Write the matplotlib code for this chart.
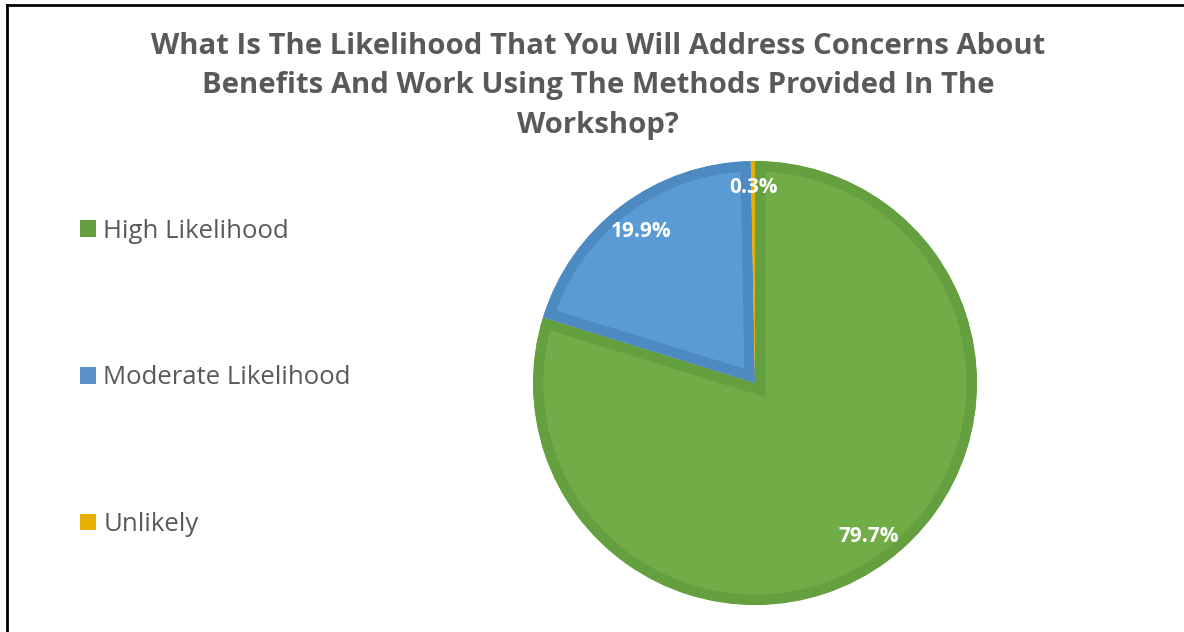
import numpy as np
import matplotlib
matplotlib.use("Agg")
import matplotlib.pyplot as plt
from matplotlib.patches import Patch
from matplotlib.lines import Line2D

# Survey responses (percent of respondents)
categories = ["High Likelihood", "Moderate Likelihood", "Unlikely"]
shares = [79.7, 19.9, 0.3]
labels = ["79.7%", "19.9%", "0.3%"]

fill_colors = ["#70AD47", "#5B9BD5", "#E8AE00"]
border_colors = ["#64A03F", "#4E8AC2", "#E8AE00"]
legend_colors = ["#659F40", "#5A92C8", "#E8AE00"]

title = ("What Is The Likelihood That You Will Address Concerns About\n"
         "Benefits And Work Using The Methods Provided In The\n"
         "Workshop?")

W, H, DPI = 1184, 632, 100
fig = plt.figure(figsize=(W / DPI, H / DPI), dpi=DPI)
fig.patch.set_facecolor("white")

# pie sits in a square axes centred at (755, 383) px with a 222 px radius
cx, cy, r = 755, 383, 222
ax = fig.add_axes([(cx - r) / W, (H - cy - r) / H, 2 * r / W, 2 * r / H])
wedges, _ = ax.pie(
    shares,
    colors=fill_colors,
    startangle=90,
    counterclock=False,
    radius=1.0,
    wedgeprops=dict(linewidth=15, antialiased=True),
)
for w, ec in zip(wedges, border_colors):
    # border only on the inside of each slice
    w.set_edgecolor(ec)
    w.set_clip_path(w)
    w.set_clip_on(True)
ax.set_xlim(-1, 1)
ax.set_ylim(-1, 1)
ax.set_aspect("equal")
ax.axis("off")

# percentage labels along each slice's middle angle
dists = [0.86, 0.855, 0.88]
for w, lab, d in zip(wedges, labels, dists):
    mid = np.deg2rad((w.theta1 + w.theta2) / 2)
    ax.text(d * np.cos(mid), d * np.sin(mid), lab, ha="center", va="center",
            color="white", fontsize=15, fontweight="bold",
            family="Open Sans")

fig.text(598 / W, 1 - 86 / H, title, ha="center", va="center",
         fontsize=21.1, fontweight="bold", color="#595959",
         family="Open Sans", linespacing=1.47)

handles = [Patch(facecolor=c, edgecolor="none") for c in legend_colors]
leg = fig.legend(handles, categories, loc="upper left",
                 bbox_to_anchor=(80 / W, 1 - 218.5 / H),
                 frameon=False, labelspacing=4.74,
                 borderpad=0, borderaxespad=0,
                 handlelength=0.62, handleheight=0.62, handletextpad=0.28,
                 prop=dict(family="Open Sans", size=18.5))
for t in leg.get_texts():
    t.set_color("#595959")

# outer chart frame (top and left edges)
fig.add_artist(Line2D([7 / W, 1], [1 - 5 / H, 1 - 5 / H], color="black",
                      linewidth=2, transform=fig.transFigure))
fig.add_artist(Line2D([7 / W, 7 / W], [0, 1 - 5 / H], color="black",
                      linewidth=2, transform=fig.transFigure))

fig.savefig("out.png", dpi=DPI)
